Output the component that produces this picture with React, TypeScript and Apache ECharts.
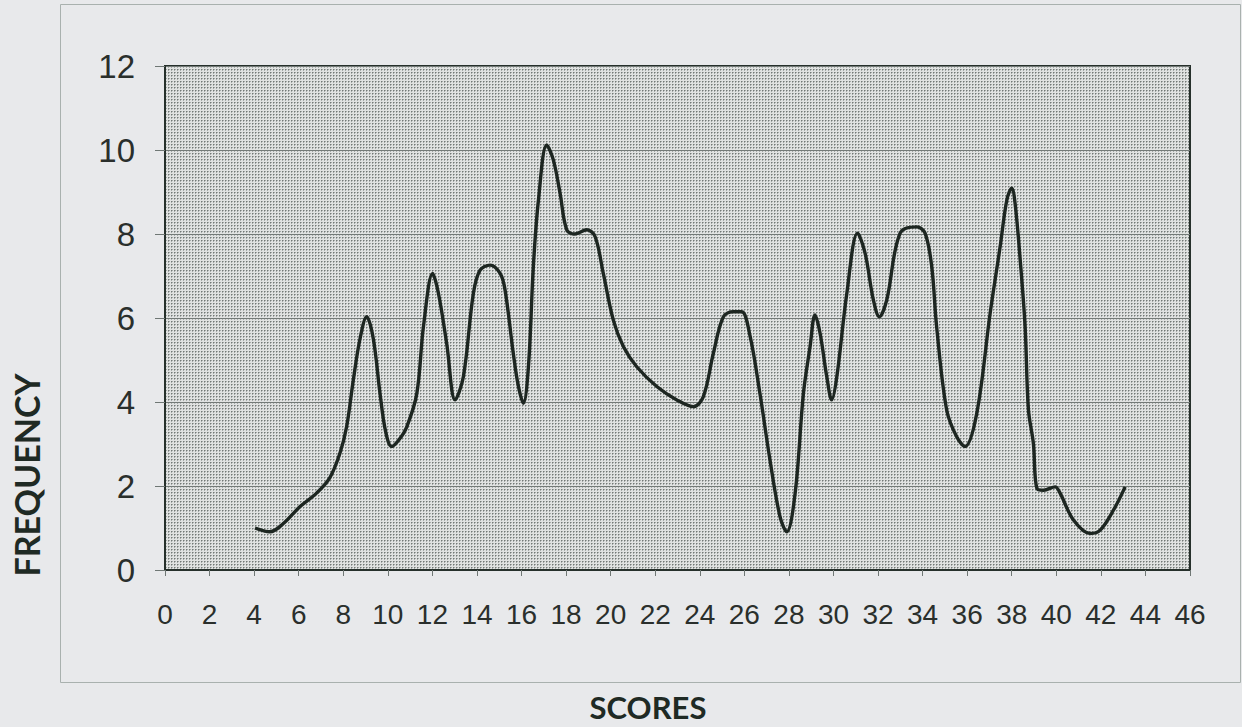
import React, { useEffect, useRef } from "react";
import * as echarts from "echarts";

const scores = [
  4.04, 4.71, 5.3, 6.06, 6.8, 7.4, 7.85, 8.15, 8.45, 8.75, 9.05, 9.35, 9.65, 9.9, 10.17, 10.5, 10.85,
  11.3, 11.6, 12.01, 12.27, 12.64, 13.02, 13.39, 13.84, 14.14, 14.59, 15.04, 15.26, 15.63, 15.85,
  16.08, 16.31, 16.53, 16.76, 17.13, 17.43, 17.73, 18.03, 18.4, 18.93, 19.3, 19.67, 20.12, 20.57,
  21.17, 22.07, 22.97, 23.71, 24.16, 24.61, 25.06, 25.51, 25.88, 26.26, 26.7, 27.15, 27.6, 27.9,
  28.28, 28.65, 28.95, 29.17, 29.4, 29.7, 29.92, 30.15, 30.6, 31.08, 31.42, 31.79, 32.06, 32.39,
  32.99, 33.74, 34.11, 34.41, 34.63, 35.08, 35.53, 35.9, 36.43, 37.03, 37.48, 37.78, 38.0, 38.15,
  38.38, 38.6, 38.75, 38.97, 39.13, 39.43, 39.95, 40.17, 40.77, 41.52, 41.97, 42.57, 43.09,
];
const frequency = [
  1.0, 0.91, 1.1, 1.51, 1.83, 2.2, 2.78, 3.41, 4.52, 5.5, 6.03, 5.5, 4.2, 3.3, 2.94, 3.1, 3.41,
  4.2, 5.8, 7.06, 6.59, 5.4, 4.05, 4.6, 6.59, 7.14, 7.26, 7.06, 6.67, 5.16, 4.4,
  3.97, 4.84, 7.22, 8.81, 10.12, 9.76, 8.97, 8.1, 8.0, 8.1, 7.94, 7.06, 5.95, 5.32,
  4.84, 4.37, 4.05, 3.89, 4.13, 5.16, 6.03, 6.15, 6.15, 5.56, 4.2, 2.62, 1.27, 0.91,
  1.83, 4.2, 5.32, 6.07, 5.63, 4.6, 4.05, 4.6, 6.59, 8.02, 7.54, 6.43, 6.03, 6.43,
  8.02, 8.17, 8.02, 7.22, 5.79, 3.81, 3.17, 2.94, 3.73, 6.11, 7.7, 8.81, 9.09, 8.73,
  7.38, 5.79, 3.81, 3.02, 1.94, 1.9, 1.98, 1.83, 1.19, 0.87, 0.95, 1.43, 1.98,
];

const xTicks = { min: 0, max: 46, interval: 2 };
const yTicks = { min: 0, max: 12, interval: 2 };
const xTitle = "SCORES";
const yTitle = "FREQUENCY";

function makeDots(): string {
  const c = document.createElement("canvas");
  c.width = 3;
  c.height = 3;
  const ctx = c.getContext("2d");
  if (!ctx) return "";
  ctx.fillStyle = "#e0e2e1";
  ctx.fillRect(0, 0, 3, 3);
  ctx.fillStyle = "#737976";
  ctx.fillRect(0, 0, 1, 1);
  ctx.fillStyle = "#a5aaa8";
  ctx.fillRect(1, 0, 1, 1);
  ctx.fillRect(0, 1, 1, 1);
  return c.toDataURL();
}

export default function App() {
  const ref = useRef<HTMLDivElement>(null);
  useEffect(() => {
    if (!ref.current) return;
    const chart = echarts.init(ref.current, null, { renderer: "svg" });
    const data = scores.map((s, i) => [s, frequency[i]]);
    const dots = makeDots();
    chart.setOption({
      animation: false,
      backgroundColor: "#e8e9eb",
      grid: {
        left: 165,
        top: 66,
        right: 52,
        bottom: 157,
        show: true,
        backgroundColor: "transparent",
        borderColor: "#26302b",
        borderWidth: 2,
      },
      xAxis: {
        type: "value",
        min: xTicks.min,
        max: xTicks.max,
        interval: xTicks.interval,
        axisLine: { show: true, lineStyle: { color: "#26302b", width: 2 } },
        axisTick: { show: true, length: 6, lineStyle: { color: "#6f7774", width: 1 } },
        axisLabel: {
          margin: 30,
          fontFamily: "Liberation Sans",
          fontSize: 28,
          color: "#2a2f2c",
        },
        splitLine: { show: false },
      },
      yAxis: {
        type: "value",
        min: yTicks.min,
        max: yTicks.max,
        interval: yTicks.interval,
        axisLine: { show: true, lineStyle: { color: "#26302b", width: 2 } },
        axisTick: { show: true, length: 10, lineStyle: { color: "#6f7774", width: 1 } },
        axisLabel: {
          margin: 30,
          fontFamily: "Liberation Sans",
          fontSize: 33,
          color: "#2a2f2c",
        },
        splitLine: { show: true, lineStyle: { color: "#737a77", width: 1.2 } },
      },
      graphic: [
        {
          type: "rect",
          shape: { x: 60.5, y: 4.5, width: 1180, height: 678 },
          style: { fill: "none", stroke: "#a9b1ae", lineWidth: 1 },
          silent: true,
          z: -10,
        },
        {
          type: "rect",
          shape: { x: 165, y: 66, width: 1025, height: 504 },
          style: {
            fill: dots ? { image: dots, repeat: "repeat" } : "#c0c4c2",
          },
          silent: true,
          z: -10,
        },
        {
          type: "text",
          x: 648,
          y: 707,
          style: {
            text: xTitle,
            fontFamily: "Lato",
            fontWeight: "bold",
            fontSize: 31,
            lineHeight: 31,
            fill: "#1f2a24",
            align: "center",
            verticalAlign: "middle",
          },
        },
        {
          type: "text",
          x: 26,
          y: 475,
          rotation: Math.PI / 2,
          style: {
            text: yTitle,
            fontFamily: "Lato",
            fontWeight: "bold",
            fontSize: 34,
            fill: "#1f2a24",
            align: "center",
            verticalAlign: "middle",
          },
        },
      ],
      series: [
        {
          type: "line",
          data,
          smooth: 0.35,
          showSymbol: false,
          lineStyle: { color: "#1d2621", width: 3.4 },
          z: 5,
        },
      ],
    });
    return () => chart.dispose();
  }, []);
  return (
    <div
      ref={ref}
      style={{ position: "fixed", left: 0, top: 0, width: 1242, height: 727 }}
    />
  );
}
